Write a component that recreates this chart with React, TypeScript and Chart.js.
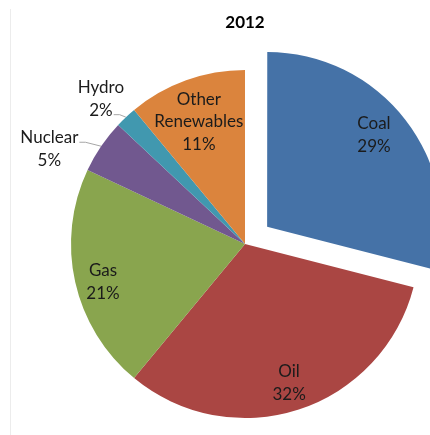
import React, { useEffect, useRef } from 'react';
import { Chart, registerables } from 'chart.js';

Chart.register(...registerables);

const chartTitle = '2012';
const categories = ['Coal', 'Oil', 'Gas', 'Nuclear', 'Hydro', 'Other Renewables'];
const labelLines = [['Coal'], ['Oil'], ['Gas'], ['Nuclear'], ['Hydro'], ['Other', 'Renewables']];
const shares = [29, 32, 21, 5, 2, 11];
const sliceColors = ['#4572A7', '#AA4643', '#89A54E', '#71588F', '#4198AF', '#DB843D'];
const explode = [112, 0, 0, 0, 0, 0];
// label placement: fraction of radius, and angular nudge (deg) from slice mid-angle
const labelRadius = [0.81, 0.838, 0.845, 1.25, 1.175, 0.75];
const labelNudge = [-2.9, 0.4, -2.4, -8.3, -1.6, -0.9];

const FONT = 'Lato, "Open Sans", sans-serif';
const LABEL_SIZE = 17;
const LINE_H = 22.5;

const labelPlugin = {
  id: 'sliceLabels',
  beforeDraw(chart: any) {
    const ctx = chart.ctx;
    ctx.save();
    ctx.strokeStyle = '#ececec';
    ctx.lineWidth = 1;
    ctx.beginPath();
    ctx.moveTo(10.5, 9);
    ctx.lineTo(10.5, chart.height);
    ctx.stroke();
    ctx.restore();
  },
  afterDatasetsDraw(chart: any) {
    const ctx = chart.ctx;
    const meta = chart.getDatasetMeta(0);
    ctx.save();
    ctx.font = `${LABEL_SIZE}px ${FONT}`;
    ctx.textAlign = 'center';
    ctx.textBaseline = 'middle';
    meta.data.forEach((arc: any, i: number) => {
      const { x, y, startAngle, endAngle, outerRadius } = arc.getProps(
        ['x', 'y', 'startAngle', 'endAngle', 'outerRadius'],
        true
      );
      const mid = (startAngle + endAngle) / 2;
      const shift = (arc.options.offset || 0) / 4;
      const cx = x + Math.cos(mid) * shift;
      const cy = y + Math.sin(mid) * shift;
      const f = labelRadius[i];
      const la = mid + (labelNudge[i] * Math.PI) / 180;
      const lx = cx + Math.cos(la) * outerRadius * f;
      const ly = cy + Math.sin(la) * outerRadius * f;
      const lines = [...labelLines[i], `${shares[i]}%`];
      const y0 = ly - ((lines.length - 1) * LINE_H) / 2;
      ctx.fillStyle = '#1b1b1b';
      lines.forEach((t, k) => ctx.fillText(t, lx, y0 + k * LINE_H));
      if (f > 1) {
        const ex = cx + Math.cos(mid) * outerRadius;
        const ey = cy + Math.sin(mid) * outerRadius;
        let best = 0;
        lines.forEach((_, k) => {
          if (Math.abs(y0 + k * LINE_H - ey) < Math.abs(y0 + best * LINE_H - ey)) best = k;
        });
        const w = ctx.measureText(lines[best]).width;
        const ay = y0 + best * LINE_H + 4.5;
        const ax = lx + w / 2 + 1;
        ctx.strokeStyle = '#a6a6a6';
        ctx.lineWidth = 1;
        ctx.beginPath();
        ctx.moveTo(ax, ay);
        ctx.lineTo(ax + 6, ay);
        ctx.lineTo(ex, ey);
        ctx.stroke();
      }
    });
    ctx.restore();
  },
};

export default function App() {
  const ref = useRef<HTMLCanvasElement | null>(null);
  useEffect(() => {
    if (!ref.current) return;
    const chart = new Chart(ref.current, {
      type: 'pie',
      data: {
        labels: categories,
        datasets: [
          {
            data: shares,
            backgroundColor: sliceColors,
            borderWidth: 0,
            offset: explode,
            radius: 174,
            clip: false,
          } as any,
        ],
      },
      options: {
        animation: false,
        responsive: false,
        devicePixelRatio: 1,
        layout: { padding: { left: 60, right: 0, top: 0, bottom: 2.4 } },
        plugins: {
          legend: { display: false },
          tooltip: { enabled: false },
          title: {
            display: true,
            text: chartTitle,
            color: '#000',
            font: { family: FONT, size: 17, weight: 'bold', lineHeight: 1.2 },
            padding: { top: 12, bottom: 23 },
          },
        },
      },
      plugins: [labelPlugin],
    });
    return () => chart.destroy();
  }, []);
  return (
    <div style={{ position: 'fixed', left: 0, top: 0, width: 430, height: 435, background: '#fff' }}>
      <canvas ref={ref} width={430} height={435} />
    </div>
  );
}
